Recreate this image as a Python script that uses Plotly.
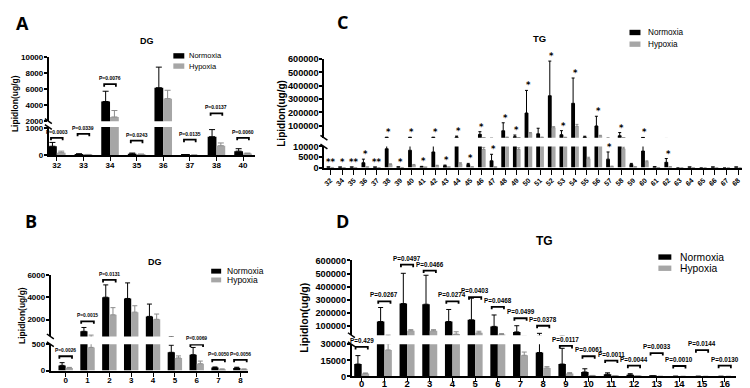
import plotly.graph_objects as go

W, H = 750, 388
BLACK = "#000000"
GREY = "#a6a6a6"
ERR_GREY = "#8c8c8c"
FONT = "Liberation Sans"
LETTER_FONT = "Open Sans"
STAR_FONT = "DejaVu Sans"

# ---------------- Panel A : DG by carbon number ----------------
a_cats = ["32", "33", "34", "35", "36", "37", "38", "40"]
a_norm = [330, 35, 4440, 50, 6160, 10, 680, 150]
a_norm_err = [140, 20, 1280, 30, 2560, 5, 260, 90]
a_hyp = [95, 20, 2520, 30, 4800, 5, 350, 60]
a_hyp_err = [55, 10, 800, 15, 1040, 3, 100, 20]
a_pvals = ["P=0.0003", "P=0.0339", "P=0.0076", "P=0.0243", "", "P=0.0135", "P=0.0137", "P=0.0060"]
a_bracket = [640, 785, 6600, 535, None, 570, 2970, 640]

# ---------------- Panel B : DG by double bonds ----------------
b_cats = ["0", "1", "2", "3", "4", "5", "6", "7", "8"]
b_norm = [98, 957, 4000, 3890, 2290, 346, 302, 56, 50]
b_norm_err = [52, 343, 1100, 1390, 1100, 135, 137, 12, 13]
b_hyp = [50, 440, 2430, 2670, 2030, 240, 130, 24, 24]
b_hyp_err = [10, 180, 640, 570, 470, 38, 50, 6, 6]
b_pvals = ["P=0.0026", "P=0.0015", "P=0.0131", "", "", "", "P=0.0069", "P=0.0050", "P=0.0056"]
b_bracket = [272, 1850, 5540, None, None, None, 495, 204, 204]

# ---------------- Panel C : TG by carbon number ----------------
c_cats = ["32", "34", "35", "36", "37", "38", "39", "40", "41", "42", "43", "44", "45",
          "46", "47", "48", "49", "50", "51", "52", "53", "54", "55", "56", "57", "58",
          "59", "60", "61", "62", "63", "64", "65", "66", "67", "68", "70"]
c_norm = [150, 100, 120, 2300, 100, 8900, 200, 8200, 400, 7400, 900, 16000, 1500,
          35000, 3200, 62000, 18000, 195000, 39000, 325000, 32000, 268000, 15000, 98000, 4000, 24600,
          1500, 7800, 300, 2500, 0, 150, 0, 150, 0, 150, 0]
c_norm_err = [100, 60, 80, 1700, 60, 5000, 100, 5500, 200, 6500, 300, 6000, 500,
              20000, 3100, 60000, 12000, 170000, 42000, 260000, 31000, 190000, 6000, 73000, 3400, 24000,
              500, 4000, 100, 1800, 0, 50, 0, 50, 0, 50, 0]
c_hyp = [50, 30, 40, 200, 30, 1500, 50, 1200, 100, 900, 200, 1800, 300,
         8600, 200, 12000, 8600, 44000, 12000, 85000, 12000, 95000, 4200, 25000, 500, 8900,
         300, 2800, 50, 300, 0, 0, 0, 0, 0, 0, 0]
c_hyp_err = [30, 20, 20, 100, 20, 300, 20, 300, 50, 200, 50, 500, 100,
             1000, 100, 2000, 800, 5000, 2000, 8000, 1000, 15000, 700, 3000, 200, 800,
             100, 400, 20, 100, 0, 0, 0, 0, 0, 0, 0]
c_stars = ["**", "*", "**", "*", "**", "*", "*", "*", "*", "*", "*", "*", "*",
           "*", "*", "*", "*", "*", "", "*", "*", "*", "", "*", "*", "*",
           "", "*", "", "*", "", "", "", "", "", "", ""]

# ---------------- Panel D : TG by double bonds ----------------
d_cats = ["0", "1", "2", "3", "4", "5", "6", "7", "8", "9", "10", "11", "12", "13", "14", "15", "16"]
d_norm = [11500, 134000, 271000, 266000, 134000, 147000, 97000, 55000, 22300, 11500, 4100, 2000, 1500, 200, 100, 80, 50]
d_norm_err = [7900, 107000, 231000, 221000, 92000, 165000, 87000, 47000, 21700, 14700, 3000, 1300, 1000, 100, 50, 40, 30]
d_hyp = [2600, 24700, 64000, 64000, 38000, 48000, 35000, 19700, 7900, 2600, 700, 300, 200, 50, 30, 20, 10]
d_hyp_err = [600, 5800, 8000, 8000, 18000, 12000, 7000, 3000, 1200, 900, 200, 100, 100, 20, 10, 10, 5]
d_pvals = ["P=0.429", "P=0.0267", "P=0.0497", "P=0.0466", "P=0.0274", "P=0.0403", "P=0.0468", "P=0.0499",
           "P=0.0378", "P=0.0117", "P=0.0061", "P=0.0011", "P=0.0044", "P=0.0033", "P=0.0010", "P=0.0144", "P=0.0130"]
d_bracket = [27500, 288000, 568000, 523000, 288000, 320000, 246000, 159000, 102000,
             28450, 18800, 14800, 10000, 21800, 9700, 24500, 10000]

series_names = ["Normoxia", "Hypoxia"]


def X(px):
    return px / W


def Y(py):
    return 1 - py / H


# layout geometry of each panel (pixels)
panels = [
    dict(key="A", cats=a_cats, norm=a_norm, nerr=a_norm_err, hyp=a_hyp, herr=a_hyp_err,
         pv=a_pvals, br=a_bracket, xa="x", ylo="y", yhi="y2",
         x0=40, x1=247, xr=[-0.3, 7.45],
         lo=(146, 117, [0, 1036], [0, 1000]), hi=(111, 45, [2000, 10000], [2000, 4000, 6000, 8000, 10000]),
         tick=8, xtick=8, cap=3, bhw=0.22, pfont=5.0, xstand=-3,
         title="DG", title_xy=(139, 29), title_size=9,
         letter_xy=(14, 10), ytitle_xy=(5.5, 93), ytitle_size=8.5,
         legend=dict(rx=165, rw=11, rh=5.5, y1=44, y2=54.5, tx=179, size=7.5)),
    dict(key="B", cats=b_cats, norm=b_norm, nerr=b_norm_err, hyp=b_hyp, herr=b_hyp_err,
         pv=b_pvals, br=b_bracket, xa="x2", ylo="y3", yhi="y4",
         x0=42, x1=240, xr=[-0.68, 8.35],
         lo=(367, 340, [0, 500], [0, 500]), hi=(332, 268.75, [500, 6000], [2000, 4000, 6000]),
         tick=8, xtick=8, cap=2.5, bhw=0.29, pfont=4.9, xstand=-3,
         title="DG", title_xy=(147, 256), title_size=9,
         letter_xy=(22, 213), ytitle_xy=(13, 310), ytitle_size=8.5,
         legend=dict(rx=203, rw=10, rh=5, y1=265, y2=274, tx=217, size=8.5)),
    dict(key="C", cats=c_cats, norm=c_norm, nerr=c_norm_err, hyp=c_hyp, herr=c_hyp_err,
         pv=None, br=None, xa="x3", ylo="y5", yhi="y6",
         x0=316.7, x1=745.5, xr=[-0.51, 36.15],
         lo=(158.7, 137, [0, 10000], [0, 5000, 10000]),
         hi=(128, 47.3, [10000, 600000], [100000, 200000, 300000, 400000, 500000, 600000]),
         tick=9.2, xtick=7, cap=1.5, bhw=0, pfont=9, xstand=-1,
         title="TG", title_xy=(533, 26), title_size=9.5,
         letter_xy=(335, 9), ytitle_xy=(273.5, 103), ytitle_size=10,
         legend=dict(rx=623, rw=11, rh=5.5, y1=20, y2=32, tx=640, size=8.2)),
    dict(key="D", cats=d_cats, norm=d_norm, nerr=d_norm_err, hyp=d_hyp, herr=d_hyp_err,
         pv=d_pvals, br=d_bracket, xa="x4", ylo="y7", yhi="y8",
         x0=344.3, x1=730, xr=[-0.43, 16.5],
         lo=(373, 340, [0, 30000], [0, 15000, 30000]),
         hi=(330.7, 254, [30000, 600000], [100000, 200000, 300000, 400000, 500000, 600000]),
         tick=9.2, xtick=9.5, cap=2.5, bhw=0.27, pfont=6.3, xstand=-7,
         title="TG", title_xy=(538, 234), title_size=12,
         letter_xy=(335, 213), ytitle_xy=(296, 313), ytitle_size=10.5,
         legend=dict(rx=652, rw=13, rh=5.5, y1=250.5, y2=262, tx=672, size=10.3)),
]

fig = go.Figure()
layout = dict(width=W, height=H, margin=dict(l=0, r=0, t=0, b=0),
              paper_bgcolor="white", plot_bgcolor="white",
              barmode="group", bargap=0.34, bargroupgap=0, showlegend=False,
              font=dict(family=FONT, color="black"))
shapes = []
annotations = []


def axis_name(ref):
    return ref[0] + "axis" + ref[1:]


for p in panels:
    n = len(p["cats"])
    xs = list(range(n))
    for ya in (p["ylo"], p["yhi"]):
        fig.add_trace(go.Bar(
            x=xs, y=p["norm"], name=series_names[0], xaxis=p["xa"], yaxis=ya,
            marker=dict(color=BLACK, line=dict(width=0)),
            error_y=dict(type="data", symmetric=False, array=p["nerr"], arrayminus=[0] * n,
                         color=BLACK, thickness=1, width=p["cap"]),
            hoverinfo="skip"))
        fig.add_trace(go.Bar(
            x=xs, y=p["hyp"], name=series_names[1], xaxis=p["xa"], yaxis=ya,
            marker=dict(color=GREY, line=dict(width=0)),
            error_y=dict(type="data", symmetric=False, array=p["herr"], arrayminus=[0] * n,
                         color=ERR_GREY, thickness=1, width=p["cap"]),
            hoverinfo="skip"))

    is_c = p["key"] == "C"
    layout[axis_name(p["xa"])] = dict(
        domain=[X(p["x0"]), X(p["x1"])], range=p["xr"], anchor=p["ylo"],
        tickmode="array", tickvals=xs, ticktext=p["cats"],
        showline=True, linecolor="black", linewidth=2,
        ticks="outside", ticklen=4 if not is_c else 5, tickwidth=1.2, tickcolor="black",
        ticklabelstandoff=p["xstand"],
        showgrid=False, zeroline=False, tickangle=-45 if is_c else 0,
        tickfont=dict(family=FONT, size=p["xtick"], color="black", weight="bold"))
    for ref, (yb, yt, rng, tv) in ((p["ylo"], p["lo"]), (p["yhi"], p["hi"])):
        layout[axis_name(ref)] = dict(
            domain=[Y(yb), Y(yt)], range=rng, anchor=p["xa"],
            tickmode="array", tickvals=tv, ticktext=[str(v) for v in tv],
            showline=True, linecolor="black", linewidth=2,
            ticks="outside", ticklen=3, tickwidth=1.5, tickcolor="black",
            ticklabelstandoff=-1,
            showgrid=False, zeroline=False,
            tickfont=dict(family=FONT, size=p["tick"], color="black", weight="bold"))

    # axis break marks
    for yy in (p["lo"][1], p["hi"][0]):
        shapes.append(dict(type="line", xref="paper", yref="paper",
                           x0=X(p["x0"] - 4), y0=Y(yy - 2.5), x1=X(p["x0"] + 3), y1=Y(yy + 2.5),
                           line=dict(color="black", width=1.5)))

    lo_max = p["lo"][2][1]

    # p-value brackets
    if p["br"] is not None:
        for i, (txt, yv) in enumerate(zip(p["pv"], p["br"])):
            if yv is None:
                continue
            ya = p["ylo"] if yv <= lo_max else p["yhi"]
            a, b = i - p["bhw"], i + p["bhw"]
            shapes.append(dict(type="path", xref=p["xa"], yref=ya, ysizemode="pixel", yanchor=yv,
                               path=f"M{a},-2.5 L{a},0 L{b},0 L{b},-2.5",
                               line=dict(color="black", width=1.8)))
            annotations.append(dict(x=i, y=yv, xref=p["xa"], yref=ya, text=txt, showarrow=False,
                                    yanchor="bottom", yshift=1,
                                    font=dict(family=FONT, size=p["pfont"], color="black", weight="bold")))

    # significance stars (panel C)
    if is_c:
        for i, s in enumerate(c_stars):
            if not s:
                continue
            top = max(c_norm[i] + c_norm_err[i], c_hyp[i] + c_hyp_err[i])
            ya = p["ylo"] if top <= lo_max else p["yhi"]
            annotations.append(dict(x=i, y=top, xref=p["xa"], yref=ya, text=s, showarrow=False,
                                    yanchor="bottom", yshift=-2,
                                    font=dict(family=STAR_FONT, size=8.5, color="#000000", weight="bold")))

    # panel title, letter, y-axis title
    tx, ty = p["title_xy"]
    annotations.append(dict(x=X(tx), y=Y(ty), xref="paper", yref="paper", text=p["title"],
                            showarrow=False, xanchor="center", yanchor="middle",
                            font=dict(family=FONT, size=p["title_size"], color="black", weight="bold")))
    lx, ly = p["letter_xy"]
    annotations.append(dict(x=X(lx), y=Y(ly), xref="paper", yref="paper", text=p["key"],
                            showarrow=False, xanchor="center", yanchor="middle",
                            font=dict(family=LETTER_FONT, size=18, color="black", weight="bold")))
    yx, yy = p["ytitle_xy"]
    annotations.append(dict(x=X(yx), y=Y(yy), xref="paper", yref="paper", text="Lipidlon(ug/g)",
                            showarrow=False, textangle=-90, xanchor="center", yanchor="middle",
                            font=dict(family=FONT, size=p["ytitle_size"], color="black", weight="bold")))

    # legend
    lg = p["legend"]
    for name, col, cy in ((series_names[0], BLACK, lg["y1"]), (series_names[1], GREY, lg["y2"])):
        shapes.append(dict(type="rect", xref="paper", yref="paper",
                           x0=X(lg["rx"]), x1=X(lg["rx"] + lg["rw"]),
                           y0=Y(cy + lg["rh"] / 2), y1=Y(cy - lg["rh"] / 2),
                           fillcolor=col, line=dict(width=0)))
        annotations.append(dict(x=X(lg["tx"]), y=Y(cy), xref="paper", yref="paper", text=name,
                                showarrow=False, xanchor="left", yanchor="middle",
                                font=dict(family=FONT, size=lg["size"], color="black")))

layout["shapes"] = shapes
layout["annotations"] = annotations
fig.update_layout(**layout)
fig.write_html("out.html")
